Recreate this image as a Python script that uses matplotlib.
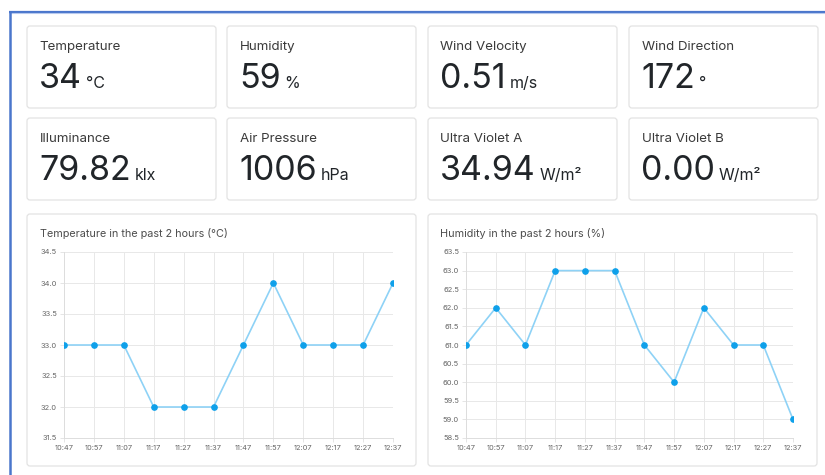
import matplotlib
matplotlib.use("Agg")
import matplotlib.pyplot as plt
from matplotlib.patches import FancyBboxPatch

plt.rcParams['font.family'] = ['Inter', 'DejaVu Sans']

# --- data -------------------------------------------------------------
card_labels = ["Temperature", "Humidity", "Wind Velocity", "Wind Direction",
               "Illuminance", "Air Pressure", "Ultra Violet A", "Ultra Violet B"]
card_values = ["34", "59", "0.51", "172", "79.82", "1006", "34.94", "0.00"]
card_units = ["°C", "%", "m/s", "°", "klx", "hPa", "W/m²", "W/m²"]

times = ["10:47", "10:57", "11:07", "11:17", "11:27", "11:37",
         "11:47", "11:57", "12:07", "12:17", "12:27", "12:37"]
temperature = [33, 33, 33, 32, 32, 32, 33, 34, 33, 33, 33, 34]
humidity = [61, 62, 61, 63, 63, 63, 61, 60, 62, 61, 61, 59]

W, H = 825, 475
fig = plt.figure(figsize=(W / 100, H / 100), dpi=100)
fig.patch.set_facecolor("white")

bg = fig.add_axes([0, 0, 1, 1])
bg.set_xlim(0, W)
bg.set_ylim(H, 0)
bg.axis("off")

# outer blue frame (top + left edge)
bg.plot([9, W], [11.5, 11.5], color="#4a76cc", lw=1.6, solid_capstyle="butt")
bg.plot([9, W], [13, 13], color="#b7c9ee", lw=0.8, solid_capstyle="butt")
bg.plot([9.5, 9.5], [11, H], color="#4a76cc", lw=1.8, solid_capstyle="butt")


def card(x0, y0, x1, y1):
    p = FancyBboxPatch((x0, y0), x1 - x0, y1 - y0,
                       boxstyle="round,pad=0,rounding_size=3",
                       facecolor="white", edgecolor="#e3e3e3", lw=0.9)
    bg.add_patch(p)


col_x = [27, 227, 428, 629]
card_w = 189
row_y = [26, 118]
card_h = 82

for i, (lab, val, unit) in enumerate(zip(card_labels, card_values, card_units)):
    r, c = divmod(i, 4)
    x0, y0 = col_x[c], row_y[r]
    card(x0, y0, x0 + card_w, y0 + card_h)
    bg.text(x0 + 12.5, y0 + 24, lab, fontsize=9.6, color="#3a3a3a", va="baseline")
    vt = bg.text(x0 + 12, y0 + 62, val, fontsize=24.5, color="#212529", va="baseline")
    bg.annotate(unit, xy=(1, y0 + 62), xycoords=(vt, "data"),
                xytext=(4, 0), textcoords="offset pixels",
                fontsize=11.5, color="#212529", va="baseline")

# chart cards
card(27, 214, 416, 466)
card(428, 214, 817, 466)
bg.text(40, 237, "Temperature in the past 2 hours (°C)", fontsize=7.8, color="#4d4d4d", va="baseline")
bg.text(440, 237, "Humidity in the past 2 hours (%)", fontsize=7.8, color="#4d4d4d", va="baseline")


def chart(left_px, right_px, values, ymin, ymax):
    top_px, bot_px = 252, 438
    ax = fig.add_axes([left_px / W, 1 - bot_px / H,
                       (right_px - left_px) / W, (bot_px - top_px) / H])
    xs = list(range(len(times)))
    ax.plot(xs, values, color="#8ed2f6", lw=1.2, marker="o", markersize=3.8,
            markerfacecolor="#0ea0ea", markeredgecolor="#0ea0ea", zorder=3)
    ax.set_xlim(0, len(times) - 1)
    ax.set_ylim(ymin, ymax)
    ax.set_xticks(xs)
    ax.set_xticklabels(times)
    yt = [ymin + 0.5 * k for k in range(int(round((ymax - ymin) / 0.5)) + 1)]
    ax.set_yticks(yt)
    ax.set_yticklabels([f"{v:.1f}" for v in yt])
    ax.grid(True, color="#e8e8e8", lw=0.7)
    for s in ax.spines.values():
        s.set_visible(False)
    ax.spines["left"].set_visible(True)
    ax.spines["bottom"].set_visible(True)
    ax.spines["left"].set_color("#dddddd")
    ax.spines["bottom"].set_color("#dddddd")
    ax.spines["left"].set_linewidth(0.7)
    ax.spines["bottom"].set_linewidth(0.7)
    ax.tick_params(labelsize=5.4, colors="#666666", length=3, width=0.6,
                   color="#e0e0e0", pad=2)
    ax.set_axisbelow(True)
    ax.patch.set_alpha(0)
    return ax


chart(64, 393, temperature, 31.5, 34.5)
chart(466, 793, humidity, 58.5, 63.5)

fig.savefig("out.png", dpi=100, facecolor="white")
